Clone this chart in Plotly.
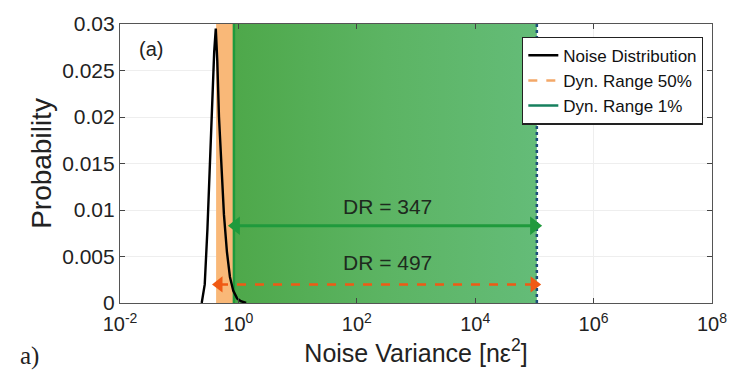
import numpy as np
import plotly.graph_objects as go

# Noise distribution (probability vs. noise variance)
noise_var = [0.24, 0.27, 0.30, 0.33, 0.36, 0.39, 0.415, 0.44, 0.47, 0.52, 0.57,
             0.64, 0.72, 0.82, 0.95, 1.1, 1.35]
noise_prob = [0.0, 0.002, 0.008, 0.015, 0.022, 0.027, 0.0295, 0.026, 0.02, 0.014,
              0.0095, 0.0055, 0.0028, 0.0013, 0.0005, 0.0002, 0.0]

# Dynamic range bands [low, high]
dr50_band = [0.42, 1.1e5]
dr1_band = [0.84, 1.1e5]
dr50_label = "DR = 497"
dr1_label = "DR = 347"
dr50_arrow_y = 0.002
dr1_arrow_y = 0.0083
dr50_text_pos = [330, 0.0044]
dr1_text_pos = [327, 0.0104]

y_ticks = [0, 0.005, 0.01, 0.015, 0.02, 0.025, 0.03]
y_labels = ["0", "0.005", "0.01", "0.015", "0.02", "0.025", "0.03"]
x_ticks = [1e-2, 1e0, 1e2, 1e4, 1e6, 1e8]
x_labels = ["10<sup>-2</sup>", "10<sup>0</sup>", "10<sup>2</sup>",
            "10<sup>4</sup>", "10<sup>6</sup>", "10<sup>8</sup>"]
y_max = 0.03

ORANGE_FILL = "#f9b878"
ORANGE = "#f05a14"
GREEN = "#1f9a3c"
TEAL = "#16805e"
EDGE = "#1d4f7a"

fig = go.Figure()

# 50% band (orange, left part only visible)
fig.add_trace(go.Scatter(
    x=[dr50_band[0], dr1_band[0], dr1_band[0], dr50_band[0], dr50_band[0]],
    y=[0, 0, y_max, y_max, 0], fill="toself", fillcolor=ORANGE_FILL,
    line=dict(width=0), mode="lines", showlegend=False, hoverinfo="skip"))

# 1% band (green gradient)
fig.add_trace(go.Scatter(
    x=[dr1_band[0], dr1_band[1], dr1_band[1], dr1_band[0], dr1_band[0]],
    y=[0, 0, y_max, y_max, 0], fill="toself",
    fillgradient=dict(type="horizontal",
                      colorscale=[[0, "#4ea84a"], [0.5, "#5cb463"], [1, "#64bc78"]]),
    line=dict(width=0), mode="lines", showlegend=False, hoverinfo="skip"))

# Band edges
fig.add_trace(go.Scatter(x=[dr1_band[0], dr1_band[0]], y=[0, y_max], mode="lines",
                         line=dict(color=GREEN, width=2.5), showlegend=False,
                         hoverinfo="skip"))
fig.add_trace(go.Scatter(x=[dr1_band[1], dr1_band[1]], y=[0, y_max], mode="lines",
                         line=dict(color=EDGE, width=2.5, dash="dot"), showlegend=False,
                         hoverinfo="skip"))

# Noise distribution curve
fig.add_trace(go.Scatter(x=noise_var, y=noise_prob, mode="lines",
                         line=dict(color="black", width=2.4),
                         name="Noise Distribution"))

# Dynamic range arrows
fig.add_trace(go.Scatter(
    x=[dr1_band[0] * 1.08, dr1_band[1] * 0.9], y=[dr1_arrow_y, dr1_arrow_y],
    mode="lines+markers", line=dict(color=GREEN, width=3),
    marker=dict(symbol=["triangle-left", "triangle-right"], size=16, color=GREEN),
    showlegend=False, hoverinfo="skip"))
fig.add_trace(go.Scatter(
    x=[dr50_band[0] * 1.12, dr50_band[1] * 0.9], y=[dr50_arrow_y, dr50_arrow_y],
    mode="lines+markers", line=dict(color=ORANGE, width=2.5, dash="dash"),
    marker=dict(symbol=["triangle-left", "triangle-right"], size=14, color=ORANGE),
    showlegend=False, hoverinfo="skip"))

# Legend-only entries
fig.add_trace(go.Scatter(x=[None], y=[None], mode="lines",
                         line=dict(color="#f3a868", width=2.5, dash="dash"),
                         name="Dyn. Range 50%"))
fig.add_trace(go.Scatter(x=[None], y=[None], mode="lines",
                         line=dict(color=TEAL, width=2.5),
                         name="Dyn. Range 1%"))

annotations = [
    dict(x=np.log10(dr1_text_pos[0]), y=dr1_text_pos[1], xref="x", yref="y",
         text=dr1_label, showarrow=False, font=dict(size=21, color="#1e2a1e")),
    dict(x=np.log10(dr50_text_pos[0]), y=dr50_text_pos[1], xref="x", yref="y",
         text=dr50_label, showarrow=False, font=dict(size=21, color="#1e2a1e")),
    dict(x=0.028, y=0.91, xref="paper", yref="paper", text="(a)", showarrow=False,
         xanchor="left", yanchor="middle", font=dict(size=20, color="#222")),
    dict(x=-0.172, y=-0.19, xref="paper", yref="paper", text="a)",
         showarrow=False, xanchor="left", yanchor="middle",
         font=dict(size=25, family="Liberation Serif", color="#222")),
]

fig.update_layout(
    width=739, height=378,
    margin=dict(l=120, r=21, t=24, b=75),
    paper_bgcolor="white", plot_bgcolor="white",
    font=dict(family="Liberation Sans, Arial", color="#222"),
    showlegend=True,
    legend=dict(x=0.985, y=0.955, xanchor="right", yanchor="top",
                bgcolor="white", bordercolor="#222", borderwidth=1.2,
                font=dict(size=17, color="#111"), tracegroupgap=0,
                itemwidth=30),
    annotations=annotations,
    xaxis=dict(type="log", range=[-2, 8], tickvals=x_ticks, ticktext=x_labels,
               ticks="inside", ticklen=5, tickcolor="#444", mirror="ticks",
               showline=True, linecolor="#555", linewidth=1.2,
               showgrid=True, gridcolor="#eeeeee",
               tickfont=dict(size=20, color="#222"), ticklabelstandoff=3,
               title=dict(text="Noise Variance [nε<sup>2</sup>]",
                          font=dict(size=25, color="#222"), standoff=4),
               zeroline=False),
    yaxis=dict(range=[0, y_max], tickvals=y_ticks, ticktext=y_labels,
               ticks="inside", ticklen=5, tickcolor="#444", mirror="ticks",
               showline=True, linecolor="#555", linewidth=1.2,
               showgrid=True, gridcolor="#eeeeee",
               tickfont=dict(size=21, color="#222"),
               title=dict(text="Probability", font=dict(size=28, color="#222"),
                          standoff=2),
               zeroline=False),
)

fig.write_html("out.html")
